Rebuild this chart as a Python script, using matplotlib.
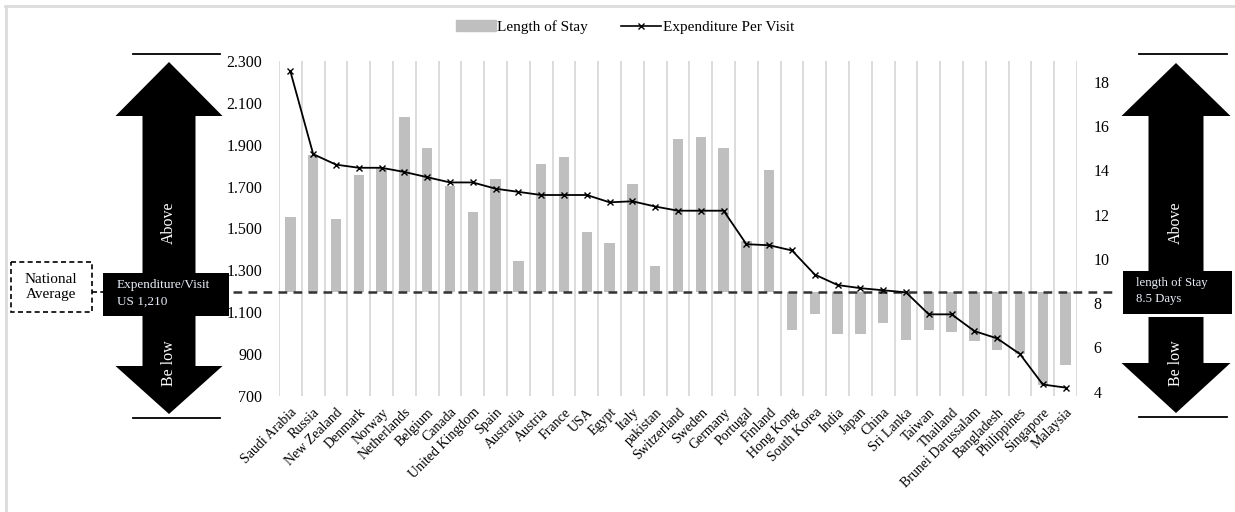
import numpy as np
import matplotlib
matplotlib.use("Agg")
import matplotlib.pyplot as plt
from matplotlib.patches import Polygon, Rectangle, Patch
from matplotlib.lines import Line2D

plt.rcParams['font.family'] = ['Liberation Serif', 'DejaVu Serif']

# Countries sorted by expenditure per visit
countries = ["Saudi Arabia", "Russia", "New Zealand", "Denmark", "Norway",
             "Netherlands", "Belgium", "Canada", "United Kingdom", "Spain",
             "Australia", "Austria", "France", "USA", "Egypt", "Italy",
             "pakistan", "Switzerland", "Sweden", "Germany", "Portugal",
             "Finland", "Hong Kong", "South Korea", "India", "Japan", "China",
             "Sri Lanka", "Taiwan", "Thailand", "Brunei Darussalam",
             "Bangladesh", "Philippines", "Singapore", "Malaysia"]

# Average length of stay (days)
length_of_stay = [11.9, 14.7, 11.8, 13.8, 14.1, 16.4, 15.0, 13.3, 12.1, 13.6,
                  9.9, 14.3, 14.6, 11.2, 10.7, 13.4, 9.7, 15.4, 15.5, 15.0,
                  10.8, 14.0, 6.8, 7.5, 6.6, 6.6, 7.1, 6.35, 6.8, 6.7,
                  6.3, 5.9, 5.7, 4.3, 5.2]

# Expenditure per visit (US$)
expenditure = [2250, 1855, 1805, 1790, 1790, 1770, 1745, 1720, 1720, 1690,
               1675, 1660, 1660, 1660, 1625, 1630, 1605, 1585, 1585, 1585,
               1425, 1420, 1395, 1280, 1230, 1215, 1205, 1195, 1090, 1090,
               1010, 975, 900, 755, 740]

avg_expenditure = 1210
avg_stay = 8.5

stay_ticks = [4, 6, 8, 10, 12, 14, 16, 18]
exp_ticks = [700, 900, 1100, 1300, 1500, 1700, 1900, 2100, 2300]

BAR_GREY = '#bfbfbf'
GRID_GREY = '#d9d9d9'

fig = plt.figure(figsize=(12.35, 5.12), dpi=100)

# pixel-space layer for the side arrows, boxes and outer frame
ov = fig.add_axes([0, 0, 1, 1])
ov.set_xlim(0, 1235)
ov.set_ylim(512, 0)
ov.axis('off')

ov.plot([5, 1235], [6, 6], color='#dcdcdc', lw=2)
ov.plot([6, 6], [6, 512], color='#dcdcdc', lw=2)


def side_arrow(cx, head_w, shaft_w, tip_top, base_top, box, low_start, base_bot, tip_bot, line_y, line_x):
    hw, sw = head_w / 2, shaft_w / 2
    bx0, by0, bx1, by1 = box
    up = [(cx, tip_top), (cx + hw, base_top), (cx + sw, base_top), (cx + sw, by0),
          (cx - sw, by0), (cx - sw, base_top), (cx - hw, base_top)]
    down = [(cx - sw, low_start), (cx + sw, low_start), (cx + sw, base_bot),
            (cx + hw, base_bot), (cx, tip_bot), (cx - hw, base_bot), (cx - sw, base_bot)]
    ov.add_patch(Polygon(up, closed=True, color='black', lw=0))
    ov.add_patch(Polygon(down, closed=True, color='black', lw=0))
    ov.add_patch(Rectangle((bx0, by0), bx1 - bx0, by1 - by0, color='black', lw=0))
    for y in line_y:
        ov.plot(line_x, [y, y], color='black', lw=1.3)
    ov.text(cx, 223, "Above", rotation=90, color='white', ha='center', va='center', fontsize=11.5)
    ov.text(cx, 363, "Be low", rotation=90, color='white', ha='center', va='center', fontsize=11.5)


side_arrow(169, 107, 53, 62, 116, (103, 273, 229, 316), 316, 366, 414, (54, 418), (133, 220))
side_arrow(1176, 109, 55, 63, 116, (1123, 271, 1232, 314), 317, 363, 413, (54, 417), (1139, 1227))

ov.text(117, 285, "Expenditure/Visit", color='#e8eef8', ha='left', va='center', fontsize=9.5)
ov.text(117, 302, "US 1,210", color='#e8eef8', ha='left', va='center', fontsize=9.5)
ov.text(1136, 283, "length of Stay", color='#e8eef8', ha='left', va='center', fontsize=9.2)
ov.text(1136, 299, "8.5 Days", color='#e8eef8', ha='left', va='center', fontsize=9.2)

ov.add_patch(Rectangle((11, 262), 81, 50, fill=False, ls=(0, (3, 2)), lw=1.2, ec='black'))
ov.text(51, 287, "National\nAverage", ha='center', va='center', fontsize=11, linespacing=1.25)
ov.plot([92, 103], [292, 292], color='black', lw=1.2, ls=(0, (3, 2)))

# main chart: bars on the stay axis (right), line on the expenditure axis (left)
ax = fig.add_axes([279 / 1235, 1 - 396 / 512, (1077 - 279) / 1235, (396 - 61) / 512])
ax2 = ax.twinx()

x = np.arange(len(countries))
stay = np.array(length_of_stay)
ax.bar(x, stay - avg_stay, bottom=avg_stay, width=0.45, color=BAR_GREY, zorder=2)
ax.set_xlim(-0.5, len(countries) - 0.5)
ax.set_ylim(3.8, 18.95)
ax.yaxis.tick_right()
ax.set_yticks(stay_ticks)
ax.set_yticklabels([str(v) for v in stay_ticks], fontsize=11.5)
ax.tick_params(axis='y', length=0, pad=12)

ax.set_xticks(x)
ax.set_xticklabels(countries, rotation=45, ha='right', va='top',
                   rotation_mode='anchor', fontsize=10)
ax.tick_params(axis='x', length=0, pad=7)
ax.set_xticks(np.arange(-0.5, len(countries)), minor=True)
ax.tick_params(axis='x', which='minor', length=0)
ax.grid(axis='x', which='minor', color=GRID_GREY, lw=1.3, zorder=0)
for s in ax.spines.values():
    s.set_visible(False)

# national average reference line
ax.plot([-0.058, 1.051], [avg_stay, avg_stay], transform=ax.get_yaxis_transform(),
        color='#333333', lw=1.8, ls=(0, (3.5, 2.5)), clip_on=False, zorder=3)

ax2.plot(x, expenditure, color='black', lw=1.3, marker='x', ms=4, mew=1, zorder=4)
ax2.set_ylim(700, 2300)
ax2.yaxis.tick_left()
ax2.set_yticks(exp_ticks)
ax2.set_yticklabels([f"{v:,}".replace(',', '.') for v in exp_ticks], fontsize=11.5)
ax2.tick_params(axis='y', length=0, pad=12)
for s in ax2.spines.values():
    s.set_visible(False)

handles = [Patch(color=BAR_GREY, label='Length of Stay'),
           Line2D([], [], color='black', lw=1.2, marker='x', ms=4, label='Expenditure Per Visit')]
fig.legend(handles=handles, loc='center', bbox_to_anchor=(0.506, 1 - 27 / 512), ncol=2,
           frameon=False, fontsize=11, handlelength=2.6, handleheight=0.7,
           columnspacing=2.2, handletextpad=0.1)

fig.savefig('out.png', dpi=100)
